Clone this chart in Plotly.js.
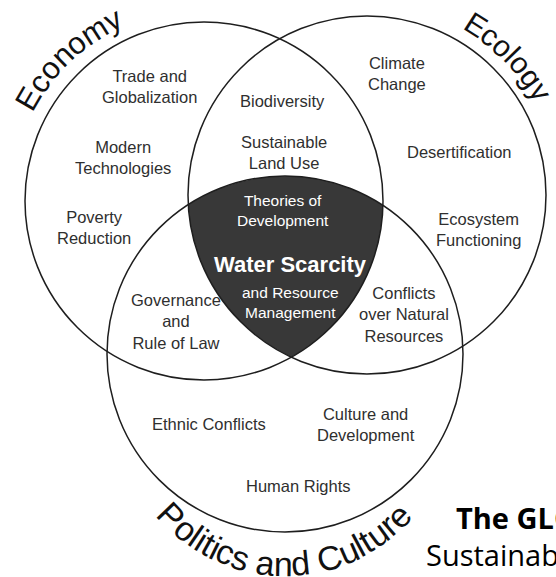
<!DOCTYPE html>
<html><head><meta charset="utf-8">
<script src="https://cdn.plot.ly/plotly-3.0.1.min.js"></script>
<style>html,body{margin:0;padding:0;background:#fff;overflow:hidden}</style>
</head><body><div id="chart" style="width:556px;height:577px"></div>
<script>
// ---- circles (pixel-space coordinates on a 556x577 canvas, y downwards) ----
const circleNames = ['Economy', 'Ecology', 'Politics and Culture'];
const circleCx = [204, 367, 285];
const circleCy = [201, 195, 354];
const circleR  = [179, 179, 178];

// ---- curved circle titles ----
const titleText   = ['Economy', 'Ecology', 'Politics and Culture'];
const titleArcCx  = [204, 367, 285];
const titleArcCy  = [201, 195, 407];
const titleArcR   = [203, 202, 157];
const titleMidDeg = [-133.5, -44.5, 90.3];
const titleDir    = [1, 1, -1];
const titleSize   = [31, 30, 34];

// ---- region labels ----
const regionText = [
  'Trade and<br>Globalization', 'Modern<br>Technologies', 'Poverty<br>Reduction',
  'Biodiversity', 'Sustainable<br>Land Use',
  'Climate<br>Change', 'Desertification', 'Ecosystem<br>Functioning',
  'Theories of<br>Development', 'Water Scarcity', 'and Resource<br>Management',
  'Governance<br>and<br>Rule of Law', 'Conflicts<br>over Natural<br>Resources',
  'Ethnic Conflicts', 'Culture and<br>Development', 'Human Rights'
];
const regionX = [149, 123, 94, 282, 284, 397, 459, 478, 283, 290, 290, 176, 404, 209, 366, 298];
const regionY = [86, 157, 227, 101, 152, 73, 152, 229, 210, 264, 302, 321, 314, 424, 424, 486];
const regionInCore = [0,0,0,0,0,0,0,0,1,1,1,0,0,0,0,0];
const regionBold   = [0,0,0,0,0,0,0,0,0,1,0,0,0,0,0,0];

// ---- caption (cut at the right edge) ----
const captionText = ['The GLO', 'Sustainab'];
const captionX = [455, 425];
const captionY = [517, 554];
const captionBold = [1, 0];

const SANS = 'Liberation Sans, Arial, sans-serif';
const LINE = '#1e1e1e';
const CORE = '#383838';
const TEXT = '#2f2f2f';

// core region = intersection of all three circles (ray casting from an inside point)
const px = circleCx.reduce((a, b) => a + b, 0) / circleCx.length;
const py = circleCy.reduce((a, b) => a + b, 0) / circleCy.length;
const coreX = [], coreY = [];
for (let k = 0; k <= 720; k++) {
  const a = k / 720 * 2 * Math.PI, ux = Math.cos(a), uy = Math.sin(a);
  let tmin = Infinity;
  for (let i = 0; i < circleCx.length; i++) {
    const dx = px - circleCx[i], dy = py - circleCy[i];
    const b = dx * ux + dy * uy, c = dx * dx + dy * dy - circleR[i] * circleR[i];
    const t = -b + Math.sqrt(b * b - c);
    if (t < tmin) tmin = t;
  }
  coreX.push(px + tmin * ux); coreY.push(py + tmin * uy);
}

const traces = [{
  type: 'scatter', mode: 'lines', x: coreX, y: coreY, fill: 'toself',
  fillcolor: CORE, line: {width: 0, color: CORE}, hoverinfo: 'skip', showlegend: false
}];

const shapes = circleNames.map((n, i) => ({
  type: 'circle', xref: 'x', yref: 'y', layer: 'above',
  x0: circleCx[i] - circleR[i], x1: circleCx[i] + circleR[i],
  y0: circleCy[i] - circleR[i], y1: circleCy[i] + circleR[i],
  line: {color: LINE, width: 1.5}, fillcolor: 'rgba(0,0,0,0)'
}));

const annotations = [];
regionText.forEach((t, i) => {
  annotations.push({
    x: regionX[i], y: regionY[i], xref: 'x', yref: 'y', text: regionBold[i] ? '<b>' + t + '</b>' : t,
    showarrow: false, xanchor: 'center', yanchor: 'middle', align: 'center',
    font: {family: SANS, size: regionBold[i] ? 22 : (regionInCore[i] ? 15.5 : 16.5),
           color: regionInCore[i] ? '#ffffff' : TEXT}
  });
});

// curved titles: one annotation per character
const cv = document.createElement('canvas').getContext('2d');
titleText.forEach((txt, k) => {
  const fs = titleSize[k], dir = titleDir[k];
  cv.font = fs + 'px "Liberation Sans"';
  const chars = Array.from(txt);
  const w = chars.map(c => cv.measureText(c).width);
  const W = w.reduce((a, b) => a + b, 0);
  const R = titleArcR[k];
  const Rb = dir > 0 ? R - 0.35 * fs : R + 0.35 * fs;
  const mid = titleMidDeg[k] * Math.PI / 180;
  let s = 0;
  chars.forEach((c, i) => {
    const off = s + w[i] / 2 - W / 2;
    s += w[i];
    if (c === ' ') return;
    const th = mid + dir * off / Rb;
    annotations.push({
      x: titleArcCx[k] + R * Math.cos(th), y: titleArcCy[k] + R * Math.sin(th),
      xref: 'x', yref: 'y', text: c, showarrow: false, xanchor: 'center', yanchor: 'middle',
      textangle: th * 180 / Math.PI + (dir > 0 ? 90 : -90), borderpad: 0,
      font: {family: SANS, size: fs, color: '#111111'}
    });
  });
});

captionText.forEach((t, i) => {
  annotations.push({
    x: captionX[i], y: captionY[i], xref: 'x', yref: 'y', text: captionBold[i] ? '<b>' + t + '</b>' : t,
    showarrow: false, xanchor: 'left', yanchor: 'middle', borderpad: 0,
    font: {family: 'Open Sans, sans-serif', size: 29, color: '#000000'}
  });
});

const layout = {
  width: 556, height: 577, margin: {l: 0, r: 0, t: 0, b: 0, pad: 0},
  paper_bgcolor: '#ffffff', plot_bgcolor: '#ffffff', showlegend: false,
  xaxis: {range: [0, 556], visible: false, fixedrange: true},
  yaxis: {range: [577, 0], visible: false, fixedrange: true},
  shapes: shapes, annotations: annotations
};
Plotly.newPlot('chart', traces, layout, {displayModeBar: false, staticPlot: true});
</script></body></html>
